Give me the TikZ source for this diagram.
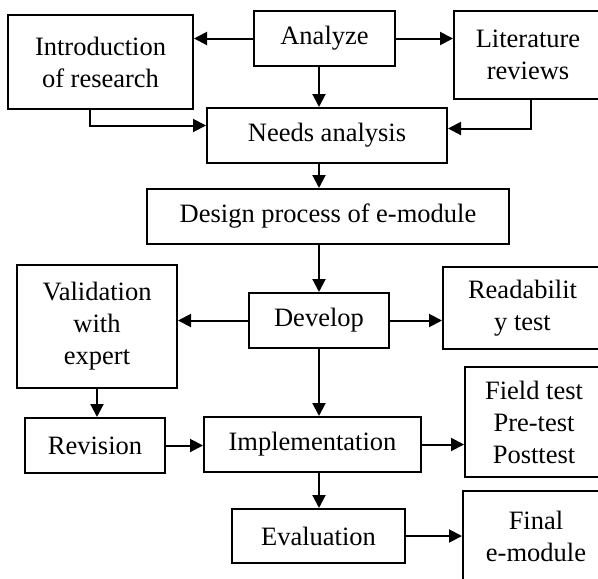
\documentclass[tikz,border=0pt]{standalone}
\usepackage{fontspec}
\setmainfont{Liberation Serif}
\usetikzlibrary{arrows.meta}

\begin{document}
\begin{tikzpicture}[x=1pt, y=-1pt,
    >={Triangle[length=13pt,width=13pt]},
    kotak/.style={draw, line width=2pt, align=center, inner sep=0pt},
    panah/.style={->, line width=2pt}]

    \useasboundingbox (0,0) rectangle (598,579);
    \clip (0,0) rectangle (598,579);
    \fontsize{26.5}{32}\selectfont

    % baris atas
    \node[kotak, minimum width=185pt, minimum height=94pt] (intro) at (100.5,62) {Introduction\\of research};
    \node[kotak, minimum width=141pt, minimum height=55pt] (analyze) at (324.5,38.5) {Analyze};
    \node[kotak, minimum width=148pt, minimum height=88pt] (lit) at (528,55) {Literature\\reviews};

    % tahap analisis dan desain
    \node[kotak, minimum width=240pt, minimum height=55pt] (needs) at (327,135.5) {Needs analysis};
    \node[kotak, minimum width=362pt, minimum height=55pt] (design) at (328,216.5) {Design process of e-module};

    % tahap pengembangan
    \node[kotak, minimum width=160pt, minimum height=123pt] (valid) at (97,326.5) {Validation\\with\\expert};
    \node[kotak, minimum width=140pt, minimum height=55pt] (develop) at (319,320.5) {Develop};
    \node[kotak, minimum width=159pt, minimum height=82pt] (read) at (522.5,308) {Readabilit\\y test};

    % implementasi dan evaluasi
    \node[kotak, minimum width=140pt, minimum height=55pt] (revision) at (95,445.5) {Revision};
    \node[kotak, minimum width=217pt, minimum height=55pt] (impl) at (312.5,444.5) {Implementation};
    \node[kotak, minimum width=138pt, minimum height=110pt] (field) at (534,422) {Field test\\Pre-test\\Posttest};
    \node[kotak, minimum width=173pt, minimum height=54pt] (eval) at (318.5,536) {Evaluation};
    \node[kotak, minimum width=146pt, minimum height=90pt] (final) at (536,536) {Final\\e-module};

    % panah
    \draw[panah] (analyze.west) -- (analyze.west -| intro.east);
    \draw[panah] (analyze.east) -- (analyze.east -| lit.west);
    \draw[panah] (analyze.south -| develop) -- (needs.north -| develop);
    \draw[panah] ([xshift=-11pt]intro.south) |- ([yshift=10pt]needs.west);
    \draw[panah] ([xshift=3pt]lit.south) |- ([yshift=7pt]needs.east);
    \draw[panah] (needs.south -| develop) -- (design.north -| develop);
    \draw[panah] (design.south -| develop) -- (develop.north);
    \draw[panah] (develop.west) -- (develop.west -| valid.east);
    \draw[panah] (develop.east) -- (develop.east -| read.west);
    \draw[panah] (valid.south) -- (valid.south |- revision.north);
    \draw[panah] (revision.east) -- (revision.east -| impl.west);
    \draw[panah] (develop.south) -- (impl.north -| develop);
    \draw[panah] (impl.east) -- (impl.east -| field.west);
    \draw[panah] (impl.south -| develop) -- (eval.north -| develop);
    \draw[panah] (eval.east) -- (eval.east -| final.west);

\end{tikzpicture}
\end{document}
